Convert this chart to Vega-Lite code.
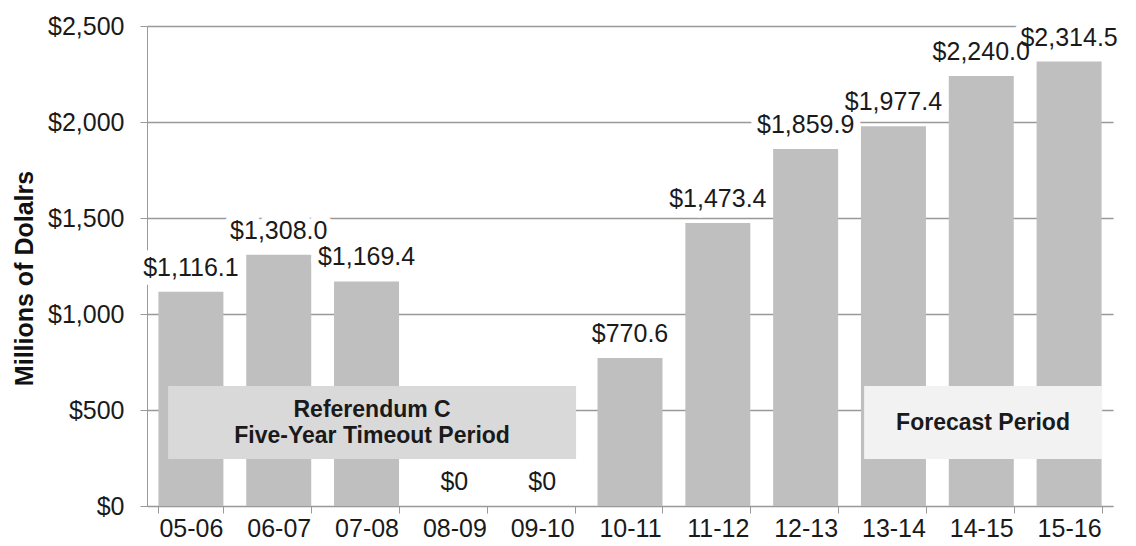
{
  "$schema": "https://vega.github.io/schema/vega-lite/v6.json",
  "autosize": "none",
  "width": 966,
  "height": 480,
  "padding": {"left": 147, "top": 26, "right": 23, "bottom": 40},
  "background": "white",
  "config": {
    "font": "Liberation Sans",
    "view": {"stroke": null},
    "axis": {"labelFont": "Liberation Sans", "titleFont": "Liberation Sans", "labelColor": "#1a1a1a", "titleColor": "#111111"}
  },
  "datasets": {
    "revenue": [
      {"year": "05-06", "value": 1116.1, "label": "$1,116.1"},
      {"year": "06-07", "value": 1308.0, "label": "$1,308.0"},
      {"year": "07-08", "value": 1169.4, "label": "$1,169.4"},
      {"year": "08-09", "value": 0, "label": "$0"},
      {"year": "09-10", "value": 0, "label": "$0"},
      {"year": "10-11", "value": 770.6, "label": "$770.6"},
      {"year": "11-12", "value": 1473.4, "label": "$1,473.4"},
      {"year": "12-13", "value": 1859.9, "label": "$1,859.9"},
      {"year": "13-14", "value": 1977.4, "label": "$1,977.4"},
      {"year": "14-15", "value": 2240.0, "label": "$2,240.0"},
      {"year": "15-16", "value": 2314.5, "label": "$2,314.5"}
    ],
    "periods": [
      {"period": "Referendum C", "text": "Referendum C\nFive-Year Timeout Period", "start": 0.24, "end": 4.886, "mid": 2.563, "low": 245, "high": 625, "textY": 500},
      {"period": "Forecast", "text": "Forecast Period", "start": 8.166, "end": 10.877, "mid": 9.52, "low": 245, "high": 625, "textY": 432}
    ]
  },
  "layer": [
    {
      "data": {"name": "revenue"},
      "encoding": {
        "x": {
          "field": "year", "type": "nominal", "sort": null,
          "scale": {"paddingInner": 0.26, "paddingOuter": 0.13},
          "axis": {
            "title": null, "labelAngle": 0, "labelFontSize": 25, "labelPadding": 3,
            "tickBand": "extent", "tickSize": 7, "tickColor": "#999999", "domainColor": "#999999", "grid": false
          }
        },
        "y": {
          "field": "value", "type": "quantitative",
          "scale": {"domain": [0, 2500], "nice": false},
          "axis": {
            "title": "Millions of Dolalrs", "titleFontSize": 25, "titleFontWeight": "bold", "titlePadding": 10, "titleY": 252,
            "values": [0, 500, 1000, 1500, 2000, 2500], "format": "$,.0f",
            "labelFontSize": 25, "labelPadding": 16, "tickSize": 7, "tickColor": "#999999",
            "domainColor": "#999999", "grid": true, "gridColor": "#999999", "gridWidth": 1.3
          }
        }
      },
      "layer": [
        {"mark": {"type": "bar", "color": "#BFBFBF"}},
        {"mark": {"type": "text", "fontSize": 25, "baseline": "alphabetic", "dy": -16, "stroke": "white", "strokeWidth": 14, "strokeJoin": "round", "fill": "white"}, "encoding": {"text": {"field": "label"}}},
        {"mark": {"type": "text", "fontSize": 25, "baseline": "alphabetic", "dy": -16, "color": "#1a1a1a"}, "encoding": {"text": {"field": "label"}}}
      ]
    },
    {
      "data": {"name": "periods"},
      "layer": [
        {
          "mark": {"type": "rect"},
          "encoding": {
            "x": {"field": "start", "type": "quantitative", "scale": {"domain": [0, 11], "nice": false, "zero": false}, "axis": null},
            "x2": {"field": "end"},
            "y": {"field": "low", "type": "quantitative"},
            "y2": {"field": "high"},
            "color": {"field": "period", "type": "nominal", "scale": {"domain": ["Referendum C", "Forecast"], "range": ["#D9D9D9", "#F2F2F2"]}, "legend": null}
          }
        },
        {
          "mark": {"type": "text", "fontSize": 23, "fontWeight": "bold", "lineBreak": "\n", "lineHeight": 26, "baseline": "middle", "color": "#1a1a1a"},
          "encoding": {
            "x": {"field": "mid", "type": "quantitative", "scale": {"domain": [0, 11], "nice": false, "zero": false}, "axis": null},
            "y": {"field": "textY", "type": "quantitative"},
            "text": {"field": "text"}
          }
        }
      ]
    }
  ],
  "resolve": {"scale": {"x": "independent"}}
}
